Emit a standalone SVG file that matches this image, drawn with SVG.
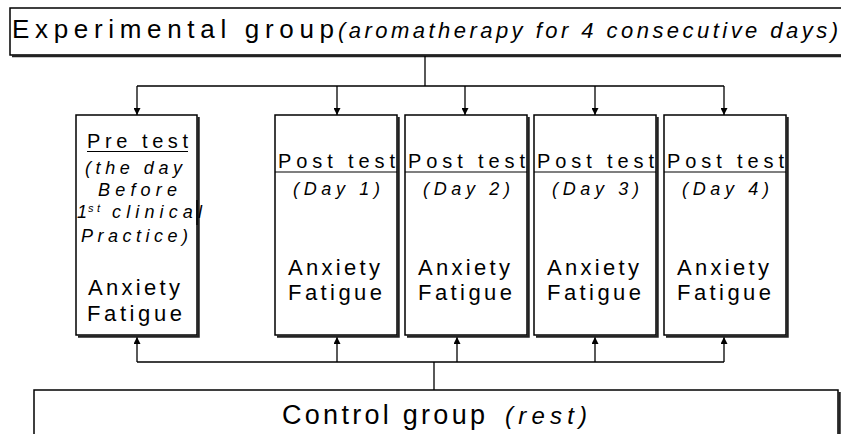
<svg xmlns="http://www.w3.org/2000/svg" width="841" height="434" viewBox="0 0 841 434">
<defs>
<style>
.box{fill:#fff;stroke:#000;stroke-width:1.5}
.sh{fill:none;stroke:#222;stroke-width:2.5}
.t{font-family:"Liberation Sans",Arial,sans-serif;fill:#000}
.i{font-style:italic}
.ln{fill:none;stroke:#000;stroke-width:1.3}
</style>
<marker id="ah" viewBox="0 0 10 10" refX="10" refY="5" markerWidth="7" markerHeight="7" markerUnits="userSpaceOnUse" orient="auto">
<path d="M0,0 L10,5 L0,10 z" fill="#000"/>
</marker>
</defs>
<rect width="841" height="434" fill="#fff"/>

<g id="experimental">
<rect class="box" x="10" y="8" width="845" height="47"/>
<line class="sh" x1="12" y1="56" x2="841" y2="56"/>
<text class="t" x="12" y="38" font-size="26" textLength="322" lengthAdjust="spacing">Experimental group</text>
<text class="t i" x="338" y="38" font-size="22" textLength="500" lengthAdjust="spacing">(aromatherapy for 4 consecutive days)</text>
</g>

<g id="connectors">
<path class="ln" d="M425,56 V86 M137,86 H724"/>
<line class="ln" x1="137" y1="86" x2="137" y2="115" marker-end="url(#ah)"/>
<line class="ln" x1="337" y1="86" x2="337" y2="115" marker-end="url(#ah)"/>
<line class="ln" x1="465" y1="86" x2="465" y2="115" marker-end="url(#ah)"/>
<line class="ln" x1="595" y1="86" x2="595" y2="115" marker-end="url(#ah)"/>
<line class="ln" x1="724" y1="86" x2="724" y2="115" marker-end="url(#ah)"/>
<path class="ln" d="M434,390 V362 M137,362 H724"/>
<line class="ln" x1="137" y1="362" x2="137" y2="337" marker-end="url(#ah)"/>
<line class="ln" x1="337" y1="362" x2="337" y2="337" marker-end="url(#ah)"/>
<line class="ln" x1="457" y1="362" x2="457" y2="337" marker-end="url(#ah)"/>
<line class="ln" x1="595" y1="362" x2="595" y2="337" marker-end="url(#ah)"/>
<line class="ln" x1="724" y1="362" x2="724" y2="337" marker-end="url(#ah)"/>
</g>

<g id="pretest">
<rect class="box" x="76" y="115" width="121" height="220"/>
<path class="sh" d="M198.5,117 V336.5 H78"/>
<text class="t" x="87" y="148" font-size="20" textLength="101" lengthAdjust="spacing">Pre test</text>
<line x1="87" y1="151.5" x2="188" y2="151.5" stroke="#000" stroke-width="1.2"/>
<text class="t i" x="85" y="174" font-size="18" textLength="97" lengthAdjust="spacing">(the day</text>
<text class="t i" x="98" y="196" font-size="18" textLength="79" lengthAdjust="spacing">Before</text>
<text class="t i" x="77" y="218" font-size="18">1</text>
<text class="t i" x="88" y="212" font-size="11" textLength="12" lengthAdjust="spacing">st</text>
<text class="t i" x="112" y="218" font-size="18" textLength="90" lengthAdjust="spacing">clinical</text>
<rect x="196.3" y="200" width="1.4" height="25" fill="#000"/>
<text class="t i" x="81" y="242" font-size="18" textLength="107" lengthAdjust="spacing">Practice)</text>
<text class="t" x="88" y="295" font-size="22" textLength="92" lengthAdjust="spacing">Anxiety</text>
<text class="t" x="87" y="321" font-size="22" textLength="95" lengthAdjust="spacing">Fatigue</text>
</g>

<g id="post1">
<rect class="box" x="275" y="115" width="122" height="220"/>
<path class="sh" d="M398.5,117 V336.5 H277"/>
<text class="t" x="278" y="168" font-size="20" textLength="117" lengthAdjust="spacing">Post test</text>
<line x1="275" y1="172" x2="397" y2="172" stroke="#000" stroke-width="1.2"/>
<text class="t i" x="293" y="195" font-size="18" textLength="87" lengthAdjust="spacing">(Day 1)</text>
<text class="t" x="288" y="275" font-size="22" textLength="92" lengthAdjust="spacing">Anxiety</text>
<text class="t" x="288" y="300" font-size="22" textLength="94" lengthAdjust="spacing">Fatigue</text>
</g>

<g id="post2">
<rect class="box" x="405" y="115" width="122" height="220"/>
<path class="sh" d="M528.5,117 V336.5 H407"/>
<text class="t" x="408" y="168" font-size="20" textLength="117" lengthAdjust="spacing">Post test</text>
<line x1="405" y1="172" x2="527" y2="172" stroke="#000" stroke-width="1.2"/>
<text class="t i" x="423" y="195" font-size="18" textLength="87" lengthAdjust="spacing">(Day 2)</text>
<text class="t" x="418" y="275" font-size="22" textLength="92" lengthAdjust="spacing">Anxiety</text>
<text class="t" x="418" y="300" font-size="22" textLength="94" lengthAdjust="spacing">Fatigue</text>
</g>

<g id="post3">
<rect class="box" x="534" y="115" width="122" height="220"/>
<path class="sh" d="M657.5,117 V336.5 H536"/>
<text class="t" x="537" y="168" font-size="20" textLength="117" lengthAdjust="spacing">Post test</text>
<line x1="534" y1="172" x2="656" y2="172" stroke="#000" stroke-width="1.2"/>
<text class="t i" x="552" y="195" font-size="18" textLength="87" lengthAdjust="spacing">(Day 3)</text>
<text class="t" x="547" y="275" font-size="22" textLength="92" lengthAdjust="spacing">Anxiety</text>
<text class="t" x="547" y="300" font-size="22" textLength="94" lengthAdjust="spacing">Fatigue</text>
</g>

<g id="post4">
<rect class="box" x="664" y="115" width="122" height="220"/>
<path class="sh" d="M787.5,117 V336.5 H666"/>
<text class="t" x="667" y="168" font-size="20" textLength="117" lengthAdjust="spacing">Post test</text>
<line x1="664" y1="172" x2="786" y2="172" stroke="#000" stroke-width="1.2"/>
<text class="t i" x="682" y="195" font-size="18" textLength="87" lengthAdjust="spacing">(Day 4)</text>
<text class="t" x="677" y="275" font-size="22" textLength="92" lengthAdjust="spacing">Anxiety</text>
<text class="t" x="677" y="300" font-size="22" textLength="94" lengthAdjust="spacing">Fatigue</text>
</g>

<g id="control">
<rect class="box" x="34" y="390" width="804" height="60"/>
<line class="sh" x1="839.5" y1="392" x2="839.5" y2="434"/>
<text class="t" x="282" y="424" font-size="27" textLength="203" lengthAdjust="spacing">Control group</text>
<text class="t i" x="505" y="424" font-size="24" textLength="82" lengthAdjust="spacing">(rest)</text>
</g>
</svg>
